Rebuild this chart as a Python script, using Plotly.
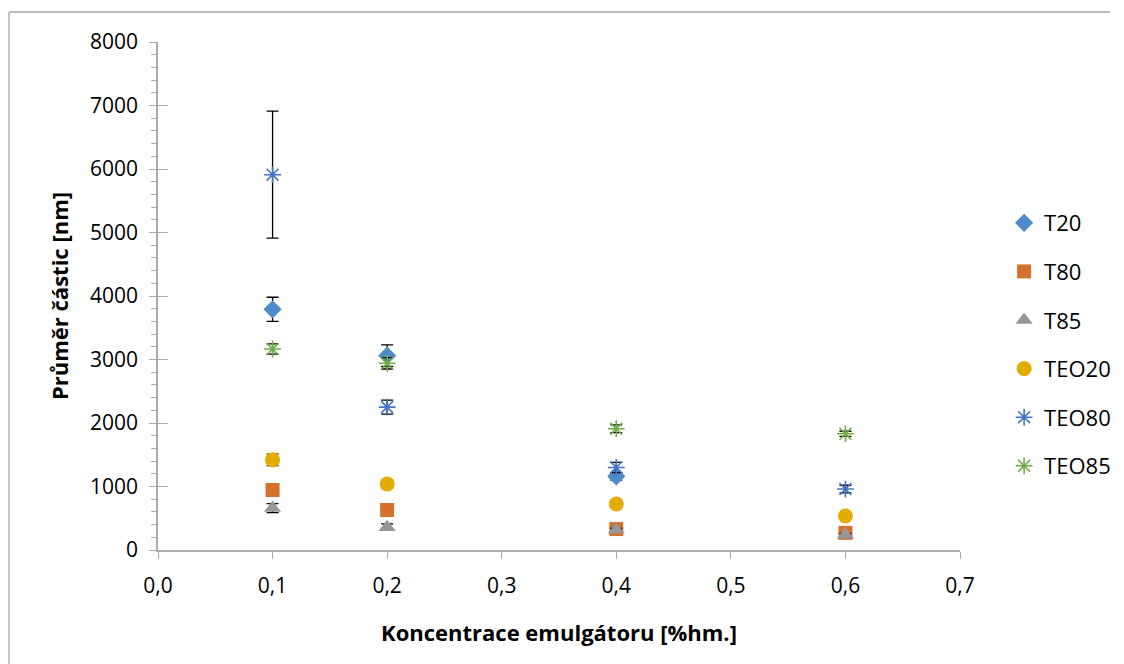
import plotly.graph_objects as go

x_conc = [0.1, 0.2, 0.4, 0.6]

series_names = ["T20", "T80", "T85", "TEO20", "TEO80", "TEO85"]
T20 = [3790, 3060, 1160, None]
T80 = [945, 630, 330, 270]
T85 = [660, 360, 320, 240]
TEO20 = [1420, 1040, 725, 535]
TEO80 = [5910, 2250, 1300, 960]
TEO85 = [3165, 2940, 1910, 1830]

T20_err = [190, 170, 60, 0]
T80_err = [30, 30, 20, 20]
T85_err = [70, 50, 20, 20]
TEO20_err = [90, 60, 30, 30]
TEO80_err = [1000, 110, 80, 60]
TEO85_err = [80, 90, 60, 40]

x_ticks = [0.0, 0.1, 0.2, 0.3, 0.4, 0.5, 0.6, 0.7]
x_ticklabels = ["0,0", "0,1", "0,2", "0,3", "0,4", "0,5", "0,6", "0,7"]

values = [T20, T80, T85, TEO20, TEO80, TEO85]
errors = [T20_err, T80_err, T85_err, TEO20_err, TEO80_err, TEO85_err]
colors = ["#4F8BC9", "#D5702D", "#969696", "#E3AC00", "#4472C4", "#70AD47"]
symbols = ["diamond", "square", "triangle-up", "circle", "asterisk-open", "asterisk-open"]
sizes = [14, 14, 15, 15, 14, 14]

FONT = "Open Sans"

fig = go.Figure()
for i, name in enumerate(series_names):
    is_line = symbols[i].startswith("asterisk")
    fig.add_trace(go.Scatter(
        x=x_conc, y=values[i], name=name, mode="markers",
        legendgroup=name,
        marker=dict(symbol=symbols[i], size=sizes[i], color=colors[i],
                    line=dict(color=colors[i], width=1.6 if is_line else 0)),
        error_y=dict(type="data", array=errors[i], visible=True,
                     color="black", thickness=1.3, width=6),
    ))

# overlay axis to draw the inside half of the major y ticks (cross ticks)
fig.add_trace(go.Scatter(x=[None], y=[None], yaxis="y2", showlegend=False,
                         hoverinfo="skip"))

fig.update_layout(
    width=1124, height=664,
    margin=dict(l=158, r=164, t=42, b=114, autoexpand=False),
    paper_bgcolor="white", plot_bgcolor="white",
    font=dict(family=FONT, size=21, color="black"),
    showlegend=True,
    legend=dict(x=1.055, y=0.685, xanchor="left", yanchor="top",
                font=dict(family=FONT, size=22), tracegroupgap=17,
                itemwidth=30, bgcolor="rgba(0,0,0,0)"),
    xaxis=dict(range=[0, 0.7], tickvals=x_ticks, ticktext=x_ticklabels,
               showgrid=False, zeroline=False, showline=True,
               linecolor="#ABABAB", linewidth=1.5, automargin=False,
               ticks="outside", ticklen=7, tickcolor="#ABABAB", tickwidth=1.3,
               ticklabelstandoff=9,
               tickfont=dict(family=FONT, size=21),
               title=dict(text="<b>Koncentrace emulgátoru [%hm.]</b>",
                          font=dict(family=FONT, size=22), standoff=28)),
    yaxis=dict(range=[0, 8000], dtick=1000, showgrid=False, zeroline=False,
               showline=True, linecolor="#ABABAB", linewidth=1.5, automargin=False,
               ticks="outside", ticklen=7, tickcolor="#ABABAB", tickwidth=1.3,
               ticklabelstandoff=7,
               tickfont=dict(family=FONT, size=21),
               minor=dict(dtick=200, ticks="outside", ticklen=5,
                          tickcolor="#ABABAB", tickwidth=1.1, showgrid=False),
               title=dict(text="<b>Průměr částic [nm]</b>",
                          font=dict(family=FONT, size=22), standoff=15)),
    yaxis2=dict(range=[0, 8000], dtick=1000, overlaying="y", side="left",
                showgrid=False, zeroline=False, showline=False, automargin=False,
                ticks="inside", ticklen=10, tickcolor="#ABABAB", tickwidth=1.3,
                showticklabels=False),
    shapes=[
        dict(type="line", xref="paper", yref="paper",
             x0=(9 - 158) / 802, x1=(1110 - 158) / 802,
             y0=(550 - 12) / 508, y1=(550 - 12) / 508,
             line=dict(color="#A6A6A6", width=1.3)),
        dict(type="line", xref="paper", yref="paper",
             x0=(9 - 158) / 802, x1=(9 - 158) / 802,
             y0=(550 - 12) / 508, y1=(550 - 670) / 508,
             line=dict(color="#A6A6A6", width=1.3)),
    ],
)

fig.write_html("out.html", config={"displayModeBar": False})
